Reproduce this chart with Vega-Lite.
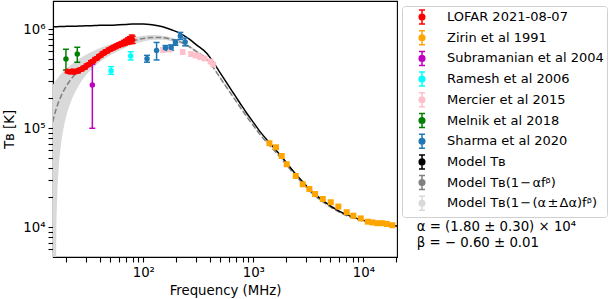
{
  "$schema": "https://vega.github.io/schema/vega-lite/v6.json",
  "width": 344,
  "height": 256,
  "autosize": {"type": "none"},
  "padding": {"left": 53, "top": 1, "right": 216, "bottom": 42},
  "config": {
    "font": "DejaVu Sans",
    "view": {"stroke": "black", "strokeWidth": 1.1},
    "axis": {"grid": false, "domainColor": "black", "domainWidth": 1.1, "tickColor": "black", "tickWidth": 1.1, "labelColor": "black", "labelFontSize": 13.3, "titleFontSize": 13.3, "titleFontWeight": "normal", "titleColor": "black", "labelFont": "DejaVu Sans", "titleFont": "DejaVu Sans", "labelOverlap": false, "labelFlush": false}
  },
  "datasets": {
    "models": [
      {"f": 15, "tb": 1060000, "td": 116000, "lo": 1000, "hi": 273000},
      {"f": 16, "tb": 1060000, "td": 152000, "lo": 1000, "hi": 303000},
      {"f": 16.2, "tb": 1060000, "td": 158600, "lo": 8300, "hi": 308700},
      {"f": 16.5, "tb": 1060000, "td": 168700, "lo": 19900, "hi": 317100},
      {"f": 17, "tb": 1065000, "td": 185300, "lo": 38700, "hi": 331800},
      {"f": 18, "tb": 1065000, "td": 215100, "lo": 73500, "hi": 356700},
      {"f": 19, "tb": 1067000, "td": 242600, "lo": 105100, "hi": 380000},
      {"f": 20, "tb": 1070000, "td": 267900, "lo": 134200, "hi": 401600},
      {"f": 22, "tb": 1070000, "td": 313000, "lo": 186700, "hi": 439000},
      {"f": 25, "tb": 1075000, "td": 370300, "lo": 252700, "hi": 487600},
      {"f": 28, "tb": 1080000, "td": 418900, "lo": 308700, "hi": 529000},
      {"f": 32, "tb": 1085000, "td": 471900, "lo": 369600, "hi": 574000},
      {"f": 36, "tb": 1090000, "td": 515900, "lo": 420200, "hi": 611500},
      {"f": 40, "tb": 1095000, "td": 554000, "lo": 463600, "hi": 644100},
      {"f": 45, "tb": 1100000, "td": 593200, "lo": 508800, "hi": 677600},
      {"f": 50, "tb": 1100000, "td": 624500, "lo": 545200, "hi": 703700},
      {"f": 60, "tb": 1110000, "td": 680000, "lo": 608200, "hi": 751600},
      {"f": 70, "tb": 1120000, "td": 724300, "lo": 658300, "hi": 790200},
      {"f": 80, "tb": 1130000, "td": 761500, "lo": 700000, "hi": 822900},
      {"f": 100, "tb": 1130000, "td": 807600, "lo": 753800, "hi": 861300},
      {"f": 120, "tb": 1110000, "td": 826200, "lo": 778800, "hi": 873500},
      {"f": 150, "tb": 1060000, "td": 823000, "lo": 783400, "hi": 862400},
      {"f": 180, "tb": 990000, "td": 791500, "lo": 758400, "hi": 824600},
      {"f": 216, "tb": 910000, "td": 746500, "lo": 719200, "hi": 773700},
      {"f": 260, "tb": 800000, "td": 671400, "lo": 649900, "hi": 692800},
      {"f": 306, "tb": 693000, "td": 591900, "lo": 575100, "hi": 608700},
      {"f": 377, "tb": 573000, "td": 499300, "lo": 487000, "hi": 511600},
      {"f": 433, "tb": 465000, "td": 409900, "lo": 400800, "hi": 419200},
      {"f": 498, "tb": 365000, "td": 325300, "lo": 318600, "hi": 331900},
      {"f": 573, "tb": 287000, "td": 258300, "lo": 253500, "hi": 263100},
      {"f": 658, "tb": 227000, "td": 206100, "lo": 202600, "hi": 209600},
      {"f": 760, "tb": 178000, "td": 163000, "lo": 160400, "hi": 165500},
      {"f": 871, "tb": 142000, "td": 130900, "lo": 129100, "hi": 132800},
      {"f": 1000, "tb": 114800, "td": 106600, "lo": 105200, "hi": 107900},
      {"f": 1151, "tb": 92500, "td": 86400, "lo": 85400, "hi": 87400},
      {"f": 1419, "tb": 70500, "td": 66400, "lo": 65700, "hi": 67100},
      {"f": 1700, "tb": 56000, "td": 53100, "lo": 52600, "hi": 53600},
      {"f": 2013, "tb": 44500, "td": 42400, "lo": 42100, "hi": 42800},
      {"f": 2400, "tb": 35000, "td": 33500, "lo": 33300, "hi": 33800},
      {"f": 2800, "tb": 29000, "td": 27900, "lo": 27700, "hi": 28100},
      {"f": 3273, "tb": 24000, "td": 23200, "lo": 23000, "hi": 23300},
      {"f": 4325, "tb": 18500, "td": 18000, "lo": 17900, "hi": 18050},
      {"f": 6137, "tb": 14400, "td": 14100, "lo": 14000, "hi": 14120},
      {"f": 8710, "tb": 12300, "td": 12060, "lo": 12000, "hi": 12100},
      {"f": 12330, "tb": 11100, "td": 10920, "lo": 10890, "hi": 10950},
      {"f": 16000, "tb": 10600, "td": 10460, "lo": 10430, "hi": 10480},
      {"f": 20230, "tb": 10300, "td": 10180, "lo": 10160, "hi": 10200}
    ],
    "obs": [
      {"series": "LOFAR 2021-08-07", "f": 20.5, "t": 376000, "lo": 364000, "hi": 388000},
      {"series": "LOFAR 2021-08-07", "f": 21.5, "t": 370000, "lo": 358000, "hi": 382000},
      {"series": "LOFAR 2021-08-07", "f": 22.5, "t": 378000, "lo": 366000, "hi": 390000},
      {"series": "LOFAR 2021-08-07", "f": 23.5, "t": 368000, "lo": 356000, "hi": 380000},
      {"series": "LOFAR 2021-08-07", "f": 24.5, "t": 380000, "lo": 368000, "hi": 392000},
      {"series": "LOFAR 2021-08-07", "f": 25.5, "t": 376000, "lo": 364000, "hi": 388000},
      {"series": "LOFAR 2021-08-07", "f": 26.5, "t": 390000, "lo": 377000, "hi": 403000},
      {"series": "LOFAR 2021-08-07", "f": 27.5, "t": 394000, "lo": 381000, "hi": 407000},
      {"series": "LOFAR 2021-08-07", "f": 28.5, "t": 408000, "lo": 395000, "hi": 421000},
      {"series": "LOFAR 2021-08-07", "f": 29.5, "t": 412000, "lo": 399000, "hi": 425000},
      {"series": "LOFAR 2021-08-07", "f": 30.5, "t": 430000, "lo": 416000, "hi": 444000},
      {"series": "LOFAR 2021-08-07", "f": 32, "t": 442000, "lo": 428000, "hi": 456000},
      {"series": "LOFAR 2021-08-07", "f": 33.5, "t": 466000, "lo": 451000, "hi": 481000},
      {"series": "LOFAR 2021-08-07", "f": 35, "t": 476000, "lo": 461000, "hi": 491000},
      {"series": "LOFAR 2021-08-07", "f": 36.5, "t": 500000, "lo": 484000, "hi": 516000},
      {"series": "LOFAR 2021-08-07", "f": 38, "t": 510000, "lo": 494000, "hi": 526000},
      {"series": "LOFAR 2021-08-07", "f": 39.5, "t": 534000, "lo": 517000, "hi": 551000},
      {"series": "LOFAR 2021-08-07", "f": 41, "t": 544000, "lo": 527000, "hi": 561000},
      {"series": "LOFAR 2021-08-07", "f": 42.5, "t": 568000, "lo": 548000, "hi": 588000},
      {"series": "LOFAR 2021-08-07", "f": 44, "t": 577000, "lo": 557000, "hi": 597000},
      {"series": "LOFAR 2021-08-07", "f": 45.5, "t": 597000, "lo": 576000, "hi": 618000},
      {"series": "LOFAR 2021-08-07", "f": 47, "t": 601000, "lo": 580000, "hi": 622000},
      {"series": "LOFAR 2021-08-07", "f": 48.5, "t": 622000, "lo": 600000, "hi": 644000},
      {"series": "LOFAR 2021-08-07", "f": 50, "t": 626000, "lo": 604000, "hi": 648000},
      {"series": "LOFAR 2021-08-07", "f": 51.5, "t": 644000, "lo": 620000, "hi": 668000},
      {"series": "LOFAR 2021-08-07", "f": 53, "t": 647000, "lo": 623000, "hi": 671000},
      {"series": "LOFAR 2021-08-07", "f": 54.5, "t": 663000, "lo": 638000, "hi": 688000},
      {"series": "LOFAR 2021-08-07", "f": 56, "t": 666000, "lo": 640000, "hi": 692000},
      {"series": "LOFAR 2021-08-07", "f": 57.5, "t": 684000, "lo": 657000, "hi": 711000},
      {"series": "LOFAR 2021-08-07", "f": 59, "t": 685000, "lo": 657000, "hi": 713000},
      {"series": "LOFAR 2021-08-07", "f": 60.5, "t": 702000, "lo": 672000, "hi": 732000},
      {"series": "LOFAR 2021-08-07", "f": 62, "t": 700000, "lo": 670000, "hi": 730000},
      {"series": "LOFAR 2021-08-07", "f": 63.5, "t": 718000, "lo": 686000, "hi": 750000},
      {"series": "LOFAR 2021-08-07", "f": 65, "t": 715000, "lo": 682000, "hi": 748000},
      {"series": "LOFAR 2021-08-07", "f": 66.5, "t": 735000, "lo": 698000, "hi": 772000},
      {"series": "LOFAR 2021-08-07", "f": 68, "t": 730000, "lo": 693000, "hi": 767000},
      {"series": "LOFAR 2021-08-07", "f": 69.5, "t": 752000, "lo": 712000, "hi": 792000},
      {"series": "LOFAR 2021-08-07", "f": 71, "t": 748000, "lo": 706000, "hi": 790000},
      {"series": "LOFAR 2021-08-07", "f": 72.5, "t": 770000, "lo": 722000, "hi": 818000},
      {"series": "LOFAR 2021-08-07", "f": 74, "t": 762000, "lo": 714000, "hi": 810000},
      {"series": "LOFAR 2021-08-07", "f": 75.5, "t": 788000, "lo": 735000, "hi": 841000},
      {"series": "LOFAR 2021-08-07", "f": 77, "t": 776000, "lo": 720000, "hi": 832000},
      {"series": "LOFAR 2021-08-07", "f": 78.5, "t": 795000, "lo": 720000, "hi": 875000},
      {"series": "LOFAR 2021-08-07", "f": 80, "t": 785000, "lo": 720000, "hi": 850000},
      {"series": "Subramanian et al 2004", "f": 34.4, "t": 274000, "lo": 100000, "hi": 443000},
      {"series": "Ramesh et al 2006", "f": 50.9, "t": 382000, "lo": 351000, "hi": 419000},
      {"series": "Ramesh et al 2006", "f": 76.8, "t": 537000, "lo": 490000, "hi": 593000},
      {"series": "Mercier et al 2015", "f": 150.9, "t": 618000, "lo": 587000, "hi": 649000},
      {"series": "Mercier et al 2015", "f": 173.2, "t": 625000, "lo": 594000, "hi": 656000},
      {"series": "Mercier et al 2015", "f": 228, "t": 590000, "lo": 560000, "hi": 620000},
      {"series": "Mercier et al 2015", "f": 270.6, "t": 563000, "lo": 535000, "hi": 591000},
      {"series": "Mercier et al 2015", "f": 298.7, "t": 544000, "lo": 517000, "hi": 571000},
      {"series": "Mercier et al 2015", "f": 327, "t": 525000, "lo": 499000, "hi": 551000},
      {"series": "Mercier et al 2015", "f": 360.8, "t": 507000, "lo": 482000, "hi": 532000},
      {"series": "Mercier et al 2015", "f": 408, "t": 473000, "lo": 449000, "hi": 497000},
      {"series": "Mercier et al 2015", "f": 432, "t": 441000, "lo": 419000, "hi": 463000},
      {"series": "Melnik et al 2018", "f": 19.8, "t": 501000, "lo": 388000, "hi": 628000},
      {"series": "Melnik et al 2018", "f": 25.1, "t": 563000, "lo": 464000, "hi": 658000},
      {"series": "Sharma et al 2020", "f": 108, "t": 505000, "lo": 465000, "hi": 545000},
      {"series": "Sharma et al 2020", "f": 132, "t": 610000, "lo": 490000, "hi": 736000},
      {"series": "Sharma et al 2020", "f": 159, "t": 647000, "lo": 610000, "hi": 685000},
      {"series": "Sharma et al 2020", "f": 179, "t": 655000, "lo": 615000, "hi": 695000},
      {"series": "Sharma et al 2020", "f": 196, "t": 736000, "lo": 690000, "hi": 780000},
      {"series": "Sharma et al 2020", "f": 217, "t": 855000, "lo": 790000, "hi": 930000},
      {"series": "Sharma et al 2020", "f": 240, "t": 744000, "lo": 680000, "hi": 815000}
    ],
    "zirin": [
      {"series": "Zirin et al 1991", "f": 1400, "t": 70600},
      {"series": "Zirin et al 1991", "f": 1607, "t": 64300},
      {"series": "Zirin et al 1991", "f": 1812, "t": 52500},
      {"series": "Zirin et al 1991", "f": 2012, "t": 43300},
      {"series": "Zirin et al 1991", "f": 2428, "t": 33000},
      {"series": "Zirin et al 1991", "f": 2812, "t": 27200},
      {"series": "Zirin et al 1991", "f": 3230, "t": 24400},
      {"series": "Zirin et al 1991", "f": 3640, "t": 21700},
      {"series": "Zirin et al 1991", "f": 4275, "t": 19300},
      {"series": "Zirin et al 1991", "f": 5055, "t": 17900},
      {"series": "Zirin et al 1991", "f": 5926, "t": 16200},
      {"series": "Zirin et al 1991", "f": 7063, "t": 14200},
      {"series": "Zirin et al 1991", "f": 8111, "t": 13100},
      {"series": "Zirin et al 1991", "f": 9468, "t": 12300},
      {"series": "Zirin et al 1991", "f": 10965, "t": 11400},
      {"series": "Zirin et al 1991", "f": 12080, "t": 11200},
      {"series": "Zirin et al 1991", "f": 13400, "t": 11000},
      {"series": "Zirin et al 1991", "f": 14880, "t": 11000},
      {"series": "Zirin et al 1991", "f": 16320, "t": 10800},
      {"series": "Zirin et al 1991", "f": 18350, "t": 10500}
    ]
  },
  "layer": [
    {
      "data": {"name": "models"},
      "mark": {"type": "area", "interpolate": "monotone", "clip": true, "opacity": 1},
      "encoding": {
        "x": {"field": "f", "type": "quantitative",
          "scale": {"type": "log", "domain": [15.1, 20230], "nice": false},
          "axis": {"title": "Frequency (MHz)", "tickSize": 5, "labelPadding": 3, "titlePadding": 5,
            "values": [20, 30, 40, 50, 60, 70, 80, 90, 100, 200, 300, 400, 500, 600, 700, 800, 900, 1000, 2000, 3000, 4000, 5000, 6000, 7000, 8000, 9000, 10000, 20000],
            "labelExpr": "datum.value == 100 ? '10²' : datum.value == 1000 ? '10³' : datum.value == 10000 ? '10⁴' : ''",
            "encode": {"ticks": {"y2": {"value": {"expr": "indexof([100, 1000, 10000], datum.value) >= 0 ? 5 : 3"}}}}}},
        "y": {"field": "lo", "type": "quantitative",
          "scale": {"type": "log", "domain": [5012, 1930000], "nice": false},
          "axis": {"title": "T\u0299 [K]", "tickSize": 5, "labelPadding": 3, "titlePadding": 6,
            "values": [6000, 7000, 8000, 9000, 10000, 20000, 30000, 40000, 50000, 60000, 70000, 80000, 90000, 100000, 200000, 300000, 400000, 500000, 600000, 700000, 800000, 900000, 1000000],
            "labelExpr": "datum.value == 10000 ? '10⁴' : datum.value == 100000 ? '10⁵' : datum.value == 1000000 ? '10⁶' : ''",
            "encode": {"ticks": {"x2": {"value": {"expr": "indexof([10000, 100000, 1000000], datum.value) >= 0 ? -5 : -3"}}}}}},
        "y2": {"field": "hi"},
        "color": {"datum": "Model T\u0299(1\u200a\u2212\u200a(\u03b1\u200a\u00b1\u200a\u0394\u03b1)f\u1d5d)", "type": "nominal",
          "scale": {
            "domain": ["LOFAR 2021-08-07", "Zirin et al 1991", "Subramanian et al 2004", "Ramesh et al 2006", "Mercier et al 2015", "Melnik et al 2018", "Sharma et al 2020", "Model T\u0299", "Model T\u0299(1\u200a\u2212\u200a\u03b1f\u1d5d)", "Model T\u0299(1\u200a\u2212\u200a(\u03b1\u200a\u00b1\u200a\u0394\u03b1)f\u1d5d)"],
            "range": ["#ff0000", "#ffa500", "#bf00bf", "#00ffff", "#ffc0cb", "#008000", "#1f77b4", "#000000", "#808080", "#d9d9d9"]},
          "legend": {
            "title": null, "orient": "none", "legendX": 349, "legendY": 5,
            "padding": 3, "symbolSize": 196, "symbolOffset": 9, "labelOffset": 17,
            "symbolType": "M0,-1L0,1M-0.43,-1L0.43,-1M-0.43,1L0.43,1M-0.4,0A0.4,0.4 0 1,0 0.4,0A0.4,0.4 0 1,0 -0.4,0Z",
            "symbolStrokeWidth": 1.5,
            "rowPadding": 0.7, "labelFontSize": 13, "labelColor": "black", "labelLimit": 300,
            "strokeColor": "#d0d0d0", "fillColor": "white", "cornerRadius": 3
          }}
      }
    },
    {
      "data": {"name": "models"},
      "mark": {"type": "line", "interpolate": "monotone", "clip": true, "strokeWidth": 1.5, "strokeDash": [5.5, 2.5]},
      "encoding": {
        "x": {"field": "f", "type": "quantitative"},
        "y": {"field": "td", "type": "quantitative"},
        "color": {"datum": "Model T\u0299(1\u200a\u2212\u200a\u03b1f\u1d5d)", "type": "nominal", "legend": null}
      }
    },
    {
      "data": {"name": "models"},
      "mark": {"type": "line", "interpolate": "monotone", "clip": true, "strokeWidth": 1.5},
      "encoding": {
        "x": {"field": "f", "type": "quantitative"},
        "y": {"field": "tb", "type": "quantitative"},
        "color": {"datum": "Model T\u0299", "type": "nominal", "legend": null}
      }
    },
    {
      "data": {"name": "obs"},
      "mark": {"type": "rule", "strokeWidth": 1.5, "clip": true},
      "encoding": {
        "x": {"field": "f", "type": "quantitative"},
        "y": {"field": "lo", "type": "quantitative"},
        "y2": {"field": "hi"},
        "color": {"field": "series", "type": "nominal", "legend": null}
      }
    },
    {
      "data": {"name": "obs"},
      "mark": {"type": "point", "shape": "M-1,0L1,0", "size": 36, "filled": false, "strokeWidth": 1.5, "opacity": 1, "clip": true},
      "encoding": {
        "x": {"field": "f", "type": "quantitative"},
        "y": {"field": "hi", "type": "quantitative"},
        "color": {"field": "series", "type": "nominal", "legend": null}
      }
    },
    {
      "data": {"name": "obs"},
      "mark": {"type": "point", "shape": "M-1,0L1,0", "size": 36, "filled": false, "strokeWidth": 1.5, "opacity": 1, "clip": true},
      "encoding": {
        "x": {"field": "f", "type": "quantitative"},
        "y": {"field": "lo", "type": "quantitative"},
        "color": {"field": "series", "type": "nominal", "legend": null}
      }
    },
    {
      "data": {"name": "obs"},
      "mark": {"type": "point", "shape": "circle", "size": 30, "filled": true, "opacity": 1, "clip": true},
      "encoding": {
        "x": {"field": "f", "type": "quantitative"},
        "y": {"field": "t", "type": "quantitative"},
        "color": {"field": "series", "type": "nominal", "legend": null}
      }
    },
    {
      "data": {"name": "zirin"},
      "mark": {"type": "point", "shape": "square", "size": 36, "filled": true, "opacity": 1, "clip": true},
      "encoding": {
        "x": {"field": "f", "type": "quantitative"},
        "y": {"field": "t", "type": "quantitative"},
        "color": {"field": "series", "type": "nominal", "legend": null}
      }
    },
    {
      "data": {"values": [{}]},
      "mark": {"type": "text", "align": "left", "baseline": "middle", "fontSize": 13.3, "lineHeight": 16.6, "clip": false, "color": "black"},
      "encoding": {
        "x": {"datum": 30590, "type": "quantitative"},
        "y": {"datum": 10140, "type": "quantitative"},
        "text": {"value": ["α = (1.80 ± 0.30) × 10⁴", "β = − 0.60 ± 0.01"]}
      }
    }
  ]
}
